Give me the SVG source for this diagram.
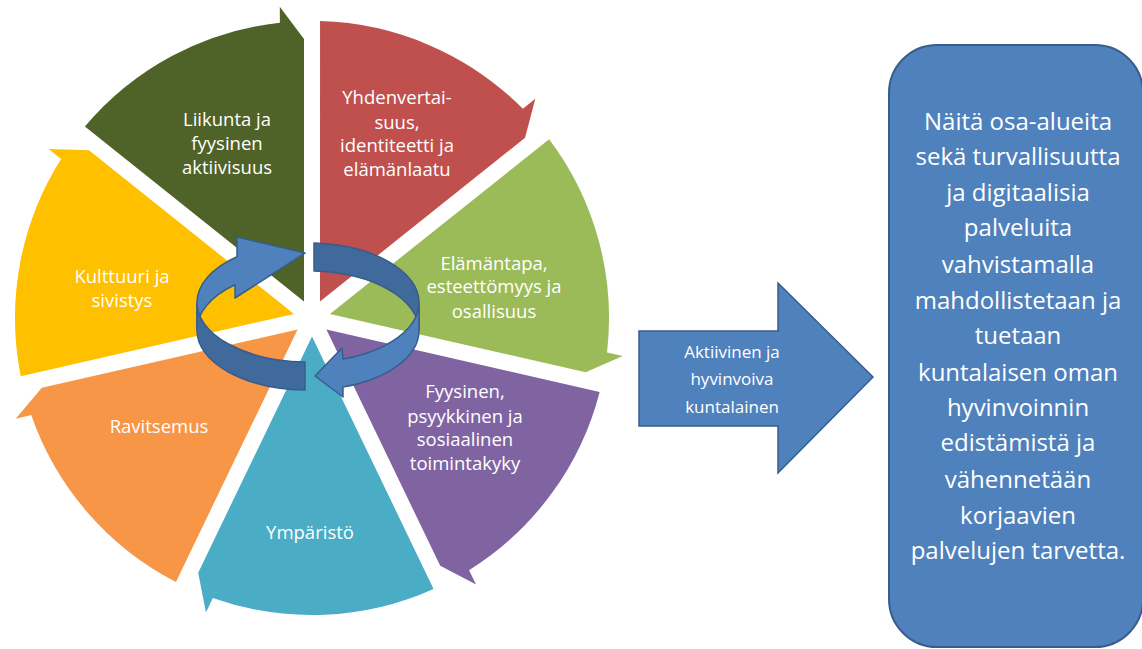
<svg xmlns="http://www.w3.org/2000/svg" width="1142" height="649" viewBox="0 0 1142 649">
<defs>
<style>
.seg{stroke:none}
.lbl{font-family:"Open Sans","Liberation Sans",sans-serif;font-size:18.5px;fill:#ffffff;text-anchor:middle}
.al{font-family:"Open Sans","Liberation Sans",sans-serif;font-size:17px;fill:#ffffff;text-anchor:middle}
.bx{font-family:"Open Sans","Liberation Sans",sans-serif;font-size:24px;fill:#ffffff;text-anchor:middle}
.ring{stroke:#385D8A;stroke-width:1.5;stroke-linejoin:round}
.lt{fill:#4F81BD}
.dk{fill:#40699C}
</style>
<path id="wedge" d="M -8,-16.6 L -227.1,-191.4 A 297 297 0 0 1 -32.1,-295.3 L -32.2,-311.3 L -8,-278.9 Z"/>
</defs>
<rect x="0" y="0" width="1142" height="649" fill="#ffffff"/>

<g id="liikunta">
<use href="#wedge" transform="translate(312,318) rotate(0)" fill="#4F6228"/>
<text class="lbl" x="227" y="126">Liikunta ja</text>
<text class="lbl" x="227" y="150">fyysinen</text>
<text class="lbl" x="227" y="174">aktiivisuus</text>
</g>
<g id="yhdenvertaisuus">
<use href="#wedge" transform="translate(312,318) rotate(51.4286)" fill="#C0504D"/>
<text class="lbl" x="397" y="104">Yhdenvertai-</text>
<text class="lbl" x="397" y="129">suus,</text>
<text class="lbl" x="397" y="152">identiteetti ja</text>
<text class="lbl" x="397" y="176">elämänlaatu</text>
</g>
<g id="elamantapa">
<use href="#wedge" transform="translate(312,318) rotate(102.857)" fill="#9BBB59"/>
<text class="lbl" x="494" y="270">Elämäntapa,</text>
<text class="lbl" x="494" y="293">esteettömyys ja</text>
<text class="lbl" x="494" y="318">osallisuus</text>
</g>
<g id="toimintakyky">
<use href="#wedge" transform="translate(312,318) rotate(154.286)" fill="#8064A2"/>
<text class="lbl" x="465" y="398">Fyysinen,</text>
<text class="lbl" x="465" y="423">psyykkinen ja</text>
<text class="lbl" x="465" y="446">sosiaalinen</text>
<text class="lbl" x="465" y="470">toimintakyky</text>
</g>
<g id="ymparisto">
<use href="#wedge" transform="translate(312,318) rotate(205.714)" fill="#4BACC6"/>
<text class="lbl" x="310" y="539">Ympäristö</text>
</g>
<g id="ravitsemus">
<use href="#wedge" transform="translate(312,318) rotate(257.143)" fill="#F79646"/>
<text class="lbl" x="159" y="433">Ravitsemus</text>
</g>
<g id="kulttuuri">
<use href="#wedge" transform="translate(312,318) rotate(308.571)" fill="#FFC000"/>
<text class="lbl" x="122" y="283">Kulttuuri ja</text>
<text class="lbl" x="122" y="307">sivistys</text>
</g>

<g id="cycle-arrows">
<path class="ring lt" d="M 197,302.5 A 111 59.5 0 0 1 237,256.8 L 237,237 L 305,253 L 235,298 L 235,284.8 A 111 59.5 0 0 0 197,330.5 Z"/>
<path class="ring dk" d="M 314,243.1 A 111 59.5 0 0 1 419,302.5 L 419,330.5 A 111 59.5 0 0 0 314,271.1 Z"/>
<path class="ring dk" d="M 305,362 A 111 59.5 0 0 1 197,302.5 L 197,330.5 A 111 59.5 0 0 0 305,390 Z"/>
<path class="ring lt" d="M 419,302.5 A 111 59.5 0 0 1 343,359 L 342,348 L 315,376 L 343,397 L 343,387 A 111 59.5 0 0 0 419,330.5 Z"/>
</g>

<g id="connectors">
<g id="big-arrow">
<path d="M 639,331 L 778,331 L 778,283 L 873,377 L 778,473 L 778,426 L 639,426 Z" fill="#4F81BD" stroke="#385D8A" stroke-width="1.5"/>
<text class="al" x="732" y="358">Aktiivinen ja</text>
<text class="al" x="732" y="385">hyvinvoiva</text>
<text class="al" x="732" y="413">kuntalainen</text>
</g>
</g>

<g id="result-box">
<rect x="889" y="45" width="254" height="602" rx="48" ry="48" fill="#4F81BD" stroke="#385D8A" stroke-width="2"/>
<text class="bx" x="1018" y="130">Näitä osa-alueita</text>
<text class="bx" x="1018" y="165">sekä turvallisuutta</text>
<text class="bx" x="1018" y="201">ja digitaalisia</text>
<text class="bx" x="1018" y="236">palveluita</text>
<text class="bx" x="1018" y="273">vahvistamalla</text>
<text class="bx" x="1018" y="309">mahdollistetaan ja</text>
<text class="bx" x="1018" y="344">tuetaan</text>
<text class="bx" x="1018" y="381">kuntalaisen oman</text>
<text class="bx" x="1018" y="416">hyvinvoinnin</text>
<text class="bx" x="1018" y="451">edistämistä ja</text>
<text class="bx" x="1018" y="488">vähennetään</text>
<text class="bx" x="1018" y="524">korjaavien</text>
<text class="bx" x="1018" y="559">palvelujen tarvetta.</text>
</g>
</svg>
